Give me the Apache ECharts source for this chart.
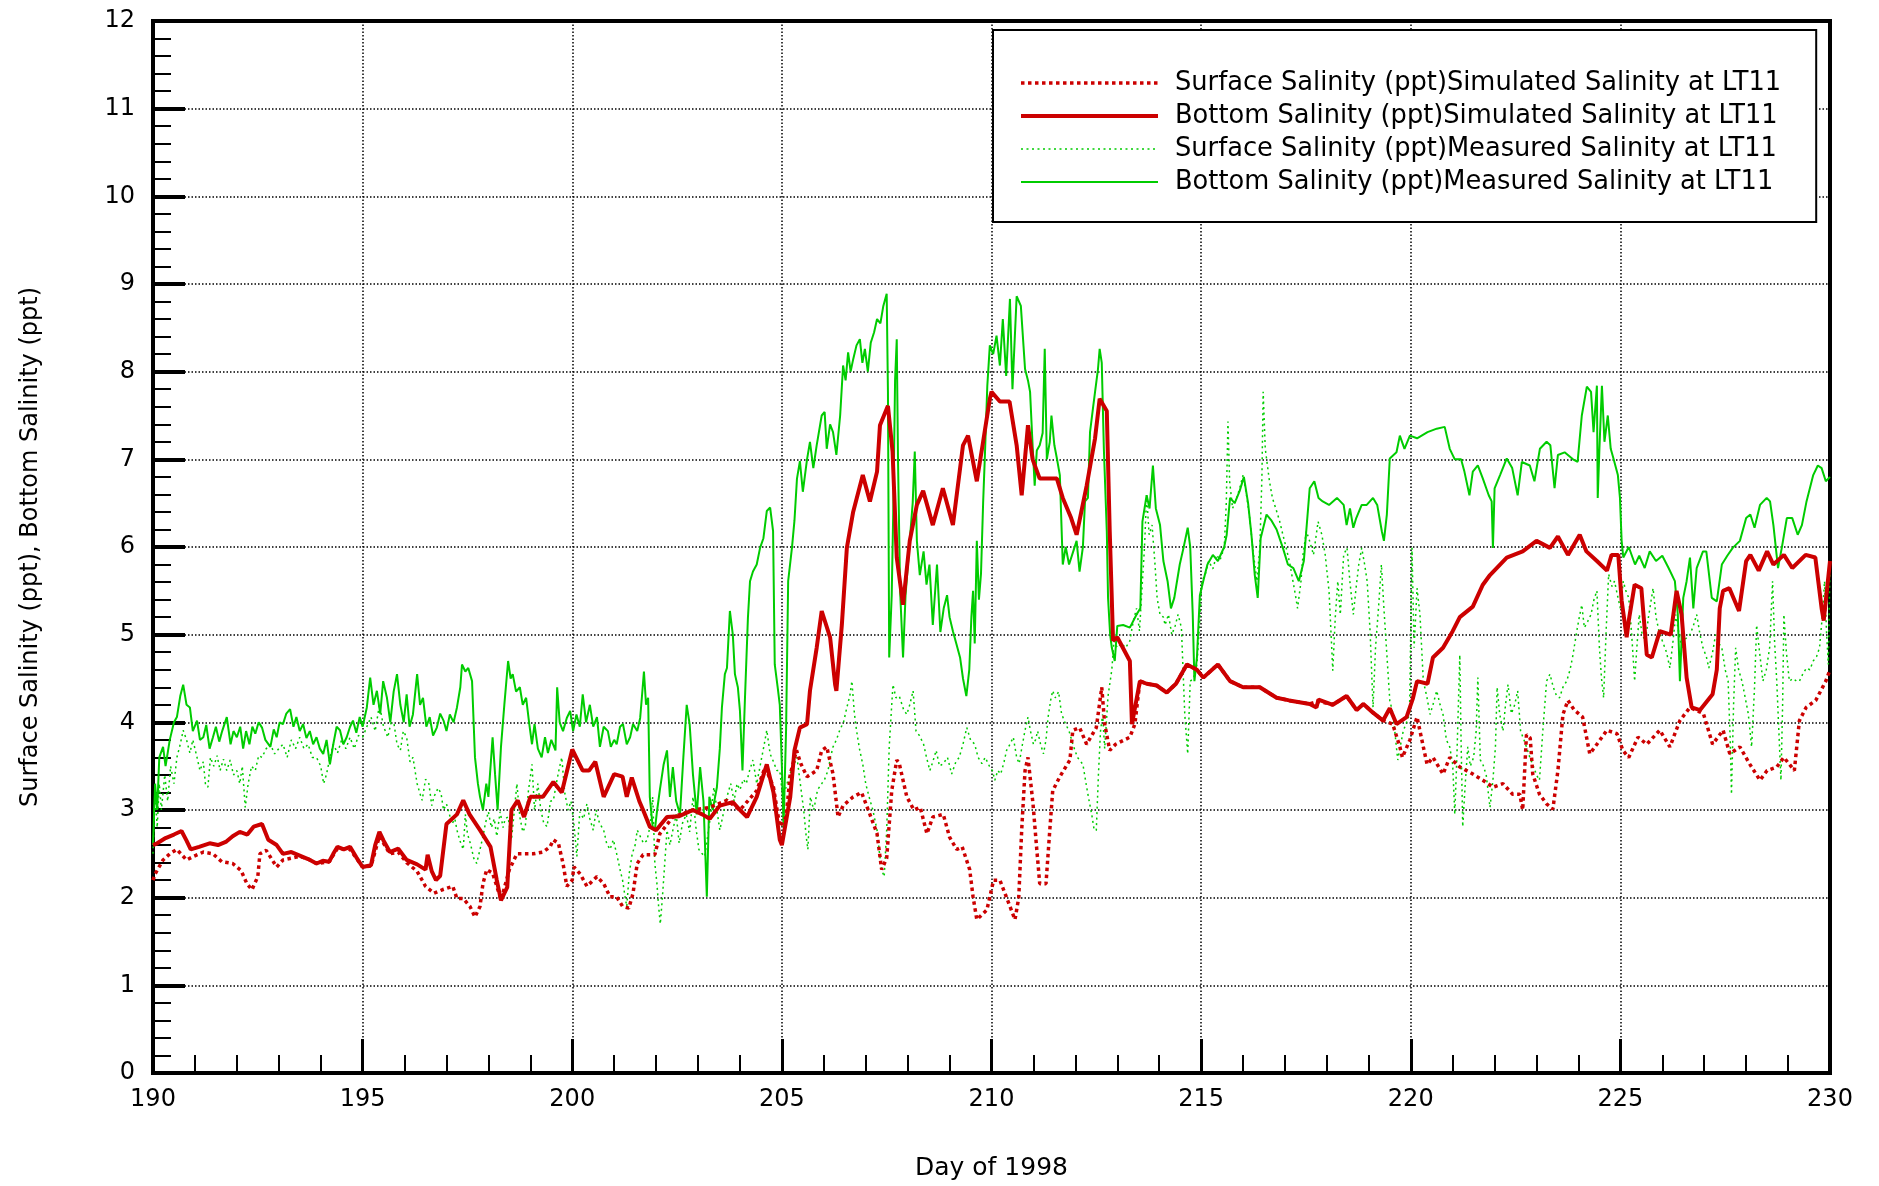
<!DOCTYPE html>
<html>
<head>
<meta charset="utf-8">
<title>Salinity at LT11, 1998</title>
<script src="https://cdn.jsdelivr.net/npm/echarts@6/dist/echarts.min.js"></script>
<style>
  html, body { margin: 0; padding: 0; background: #fff; }
  #chart { width: 1879px; height: 1186px; }
</style>
</head>
<body>
<div id="chart"></div>
<script>
// Series names as shown in the legend
const seriesNames = [
  'Surface Salinity (ppt)Simulated Salinity at LT11',
  'Bottom Salinity (ppt)Simulated Salinity at LT11',
  'Surface Salinity (ppt)Measured Salinity at LT11',
  'Bottom Salinity (ppt)Measured Salinity at LT11'
];

// Simulated surface salinity, [day of 1998, ppt]
const surfaceSimulated = [
  [190.0,2.2],[190.05,2.27],[190.24,2.43],[190.4,2.5],[190.57,2.55],[190.8,2.43],[190.96,2.47],[191.2,2.52],
  [191.43,2.5],[191.64,2.41],[191.9,2.39],[192.1,2.31],[192.24,2.16],[192.36,2.09],[192.5,2.24],[192.55,2.5],
  [192.7,2.54],[192.95,2.35],[193.1,2.43],[193.5,2.47],[193.7,2.44],[193.9,2.39],[194.2,2.41],[194.4,2.56],
  [194.7,2.55],[195.0,2.35],[195.2,2.36],[195.4,2.7],[195.65,2.5],[195.85,2.52],[196.05,2.4],[196.3,2.3],
  [196.5,2.13],[196.7,2.05],[196.9,2.09],[197.15,2.13],[197.25,1.99],[197.4,1.99],[197.56,1.9],[197.68,1.78],
  [197.8,1.9],[197.87,2.16],[197.96,2.32],[198.1,2.28],[198.28,2.01],[198.3,1.97],[198.5,2.32],[198.68,2.5],
  [199.07,2.5],[199.3,2.52],[199.47,2.58],[199.55,2.66],[199.67,2.62],[199.78,2.39],[199.87,2.13],[200.0,2.2],
  [200.04,2.35],[200.19,2.27],[200.35,2.13],[200.59,2.24],[200.75,2.16],[200.9,2.01],[201.06,2.01],[201.2,1.9],
  [201.35,1.88],[201.45,2.05],[201.55,2.39],[201.69,2.49],[201.97,2.49],[202.09,2.73],[202.4,2.92],[202.88,3.0],
  [203.28,3.03],[203.69,3.11],[204.0,3.0],[204.4,3.22],[204.6,3.49],[204.8,3.26],[204.95,2.81],[205.1,2.92],
  [205.2,3.41],[205.35,3.68],[205.45,3.53],[205.6,3.38],[205.83,3.45],[205.95,3.68],[206.07,3.72],[206.22,3.41],
  [206.34,2.92],[206.46,3.05],[206.7,3.15],[206.9,3.2],[207.1,2.95],[207.27,2.73],[207.38,2.32],[207.5,2.45],
  [207.62,3.22],[207.74,3.57],[207.8,3.53],[207.98,3.15],[208.15,3.0],[208.3,3.03],[208.46,2.73],[208.6,2.92],
  [208.85,2.95],[209.0,2.69],[209.17,2.55],[209.3,2.58],[209.48,2.32],[209.56,2.01],[209.65,1.75],[209.89,1.86],
  [210.05,2.2],[210.2,2.2],[210.44,1.9],[210.56,1.75],[210.65,2.0],[210.72,2.77],[210.8,3.45],[210.87,3.6],
  [210.99,3.07],[211.08,2.55],[211.15,2.16],[211.3,2.16],[211.39,2.77],[211.46,3.22],[211.63,3.38],[211.87,3.57],
  [211.94,3.91],[212.1,3.94],[212.27,3.75],[212.5,3.94],[212.63,4.4],[212.7,3.98],[212.82,3.68],[212.96,3.75],
  [213.3,3.83],[213.42,3.98],[213.54,4.47],[213.7,4.44],[213.94,4.42],[214.18,4.34],[214.4,4.44],[214.66,4.66],
  [214.9,4.6],[215.05,4.51],[215.4,4.66],[215.69,4.47],[216.0,4.4],[216.4,4.4],[216.8,4.28],[217.1,4.25],
  [217.59,4.21],[217.8,4.24],[218.14,4.2],[218.47,4.3],[218.71,4.14],[218.87,4.21],[219.1,4.11],[219.34,4.02],
  [219.57,3.98],[219.74,3.72],[219.8,3.6],[219.98,3.8],[220.15,4.06],[220.3,3.72],[220.39,3.52],[220.53,3.6],
  [220.77,3.41],[220.93,3.6],[221.17,3.49],[221.41,3.43],[221.72,3.34],[221.96,3.26],[222.2,3.3],[222.43,3.18],
  [222.6,3.18],[222.67,3.0],[222.76,3.86],[222.85,3.82],[222.91,3.41],[223.07,3.18],[223.24,3.07],[223.39,3.01],
  [223.51,3.45],[223.63,4.09],[223.75,4.25],[223.9,4.14],[224.1,4.06],[224.27,3.64],[224.44,3.75],[224.68,3.91],
  [224.92,3.87],[225.06,3.68],[225.2,3.6],[225.42,3.83],[225.63,3.75],[225.94,3.91],[226.18,3.72],[226.42,4.02],
  [226.66,4.17],[226.98,4.1],[227.2,3.75],[227.45,3.91],[227.61,3.64],[227.85,3.72],[228.09,3.52],[228.33,3.34],
  [228.5,3.45],[228.73,3.49],[228.9,3.6],[229.15,3.45],[229.27,4.02],[229.43,4.17],[229.66,4.25],[229.9,4.47],
  [230.0,4.6]
];

// Simulated bottom salinity, [day of 1998, ppt]
const bottomSimulated = [
  [190.0,2.6],[190.1,2.62],[190.3,2.68],[190.5,2.72],[190.68,2.76],[190.8,2.65],[190.9,2.55],[191.1,2.58],
  [191.35,2.62],[191.55,2.6],[191.75,2.64],[191.9,2.7],[192.07,2.75],[192.25,2.72],[192.4,2.81],[192.6,2.84],
  [192.75,2.66],[192.95,2.6],[193.1,2.5],[193.3,2.52],[193.5,2.48],[193.7,2.44],[193.9,2.39],[194.05,2.42],
  [194.2,2.41],[194.3,2.5],[194.4,2.58],[194.55,2.55],[194.7,2.58],[194.85,2.46],[195.0,2.35],[195.2,2.37],
  [195.3,2.6],[195.4,2.75],[195.5,2.65],[195.65,2.52],[195.85,2.56],[196.05,2.43],[196.3,2.38],[196.5,2.32],
  [196.55,2.49],[196.65,2.3],[196.75,2.2],[196.85,2.25],[197.0,2.84],[197.25,2.95],[197.4,3.11],[197.55,2.95],
  [197.8,2.77],[198.05,2.58],[198.2,2.2],[198.3,1.97],[198.45,2.12],[198.55,3.0],[198.7,3.11],[198.85,2.92],
  [199.0,3.15],[199.3,3.15],[199.55,3.32],[199.75,3.2],[200.0,3.69],[200.25,3.45],[200.4,3.45],[200.55,3.55],
  [200.75,3.15],[201.0,3.41],[201.2,3.38],[201.3,3.15],[201.42,3.37],[201.6,3.1],[201.69,3.0],[201.85,2.81],
  [202.0,2.77],[202.26,2.92],[202.55,2.93],[202.88,3.0],[203.1,2.95],[203.28,2.9],[203.52,3.05],[203.83,3.09],
  [204.0,3.0],[204.17,2.92],[204.4,3.15],[204.64,3.52],[204.8,3.2],[204.95,2.66],[205.0,2.6],[205.2,3.15],
  [205.3,3.68],[205.43,3.94],[205.6,3.98],[205.67,4.36],[205.83,4.85],[205.95,5.27],[206.15,4.97],[206.27,4.43],
  [206.3,4.36],[206.43,5.11],[206.55,5.99],[206.7,6.4],[206.93,6.82],[207.1,6.52],[207.27,6.86],[207.34,7.39],
  [207.53,7.61],[207.64,7.09],[207.74,5.88],[207.89,5.34],[208.05,6.07],[208.22,6.48],[208.37,6.64],[208.6,6.25],
  [208.84,6.67],[209.08,6.25],[209.32,7.16],[209.44,7.27],[209.65,6.75],[209.8,7.2],[209.96,7.69],[210.0,7.77],
  [210.2,7.66],[210.43,7.66],[210.6,7.16],[210.72,6.59],[210.87,7.39],[210.98,7.0],[211.15,6.78],[211.4,6.78],
  [211.56,6.78],[211.7,6.56],[211.9,6.33],[212.03,6.14],[212.27,6.7],[212.47,7.24],[212.58,7.69],[212.75,7.55],
  [212.82,6.18],[212.9,4.93],[213.0,4.97],[213.3,4.7],[213.35,3.98],[213.54,4.47],[213.7,4.44],[213.94,4.42],
  [214.18,4.34],[214.4,4.44],[214.66,4.66],[214.9,4.6],[215.05,4.51],[215.4,4.66],[215.69,4.47],[216.0,4.4],
  [216.4,4.4],[216.8,4.28],[217.1,4.25],[217.59,4.21],[217.75,4.17],[217.8,4.26],[218.14,4.2],[218.47,4.3],
  [218.71,4.14],[218.87,4.21],[219.1,4.11],[219.34,4.02],[219.5,4.16],[219.66,3.98],[219.9,4.06],[220.05,4.27],
  [220.15,4.47],[220.4,4.44],[220.53,4.74],[220.77,4.85],[221.0,5.04],[221.17,5.2],[221.48,5.32],[221.72,5.57],
  [221.89,5.68],[222.13,5.8],[222.29,5.88],[222.67,5.95],[223.0,6.07],[223.32,5.99],[223.51,6.12],[223.75,5.91],
  [224.03,6.14],[224.19,5.95],[224.44,5.84],[224.68,5.73],[224.79,5.91],[224.95,5.91],[225.03,5.39],[225.15,4.97],
  [225.2,5.16],[225.34,5.57],[225.5,5.53],[225.63,4.77],[225.75,4.74],[225.94,5.04],[226.2,5.0],[226.34,5.5],
  [226.46,5.23],[226.58,4.51],[226.7,4.17],[226.9,4.14],[227.2,4.32],[227.3,4.6],[227.37,5.3],[227.45,5.5],
  [227.6,5.53],[227.83,5.27],[228.0,5.84],[228.1,5.91],[228.3,5.73],[228.5,5.95],[228.65,5.8],[228.9,5.91],
  [229.1,5.76],[229.42,5.91],[229.65,5.88],[229.8,5.3],[229.85,5.16],[230.0,5.84]
];

// Measured surface salinity, [day of 1998, ppt]
const surfaceMeasured = [
  [190.0,2.5],[190.05,3.2],[190.1,2.8],[190.15,3.3],[190.2,3.0],[190.28,3.4],[190.35,3.1],[190.42,3.5],
  [190.5,3.3],[190.57,3.6],[190.65,3.75],[190.72,3.91],[190.8,3.8],[190.88,3.65],[190.95,3.8],[191.05,3.6],
  [191.12,3.45],[191.2,3.55],[191.25,3.3],[191.31,3.26],[191.37,3.6],[191.45,3.5],[191.53,3.62],[191.6,3.45],
  [191.68,3.58],[191.76,3.45],[191.84,3.57],[191.92,3.4],[192.0,3.45],[192.07,3.3],[192.13,3.5],[192.2,3.03],
  [192.27,3.3],[192.35,3.5],[192.44,3.45],[192.52,3.62],[192.6,3.6],[192.7,3.7],[192.8,3.75],[192.9,3.64],
  [193.0,3.7],[193.1,3.75],[193.2,3.6],[193.3,3.8],[193.4,3.7],[193.5,3.83],[193.6,3.7],[193.7,3.75],
  [193.8,3.6],[193.9,3.6],[194.0,3.5],[194.07,3.3],[194.14,3.41],[194.22,3.6],[194.3,3.75],[194.4,3.65],
  [194.5,3.8],[194.6,3.7],[194.7,3.83],[194.8,3.7],[194.9,3.85],[195.0,3.83],[195.1,3.95],[195.2,4.06],
  [195.3,3.9],[195.4,4.2],[195.5,3.95],[195.6,3.83],[195.68,4.0],[195.75,3.98],[195.82,3.75],[195.9,3.68],
  [195.97,3.9],[196.05,3.83],[196.13,3.55],[196.2,3.6],[196.3,3.3],[196.36,3.2],[196.42,3.11],[196.5,3.35],
  [196.58,3.3],[196.65,3.05],[196.7,3.15],[196.8,3.25],[196.87,3.19],[196.93,3.0],[197.0,3.07],[197.07,2.95],
  [197.13,2.84],[197.2,2.9],[197.25,2.77],[197.32,2.65],[197.4,2.55],[197.45,2.95],[197.5,2.73],[197.58,2.6],
  [197.65,2.45],[197.72,2.39],[197.8,2.55],[197.87,2.7],[197.93,2.85],[198.0,2.98],[198.07,2.8],[198.14,2.9],
  [198.2,2.7],[198.28,2.98],[198.35,2.8],[198.4,2.9],[198.47,2.92],[198.55,2.66],[198.62,3.0],[198.68,3.3],
  [198.75,2.92],[198.82,2.75],[198.88,2.81],[198.95,3.2],[199.04,3.52],[199.1,3.0],[199.18,3.3],[199.25,3.0],
  [199.32,2.85],[199.4,2.81],[199.48,3.1],[199.55,3.11],[199.62,3.3],[199.68,3.45],[199.75,3.6],[199.82,3.2],
  [199.9,3.0],[199.97,3.1],[200.04,2.84],[200.11,2.47],[200.18,2.98],[200.27,2.9],[200.35,3.07],[200.42,2.9],
  [200.5,2.77],[200.57,3.0],[200.65,2.85],[200.75,2.77],[200.82,2.62],[200.9,2.55],[200.98,2.66],[201.06,2.5],
  [201.14,2.32],[201.2,2.2],[201.26,2.01],[201.3,1.9],[201.36,2.28],[201.43,2.5],[201.5,2.6],[201.55,2.77],
  [201.62,2.7],[201.7,2.62],[201.78,2.65],[201.85,2.8],[201.92,3.15],[201.97,2.39],[202.02,2.16],[202.06,1.9],
  [202.1,1.7],[202.15,2.0],[202.2,2.35],[202.26,2.77],[202.33,2.6],[202.4,2.77],[202.48,2.95],[202.55,2.62],
  [202.63,2.85],[202.72,2.95],[202.8,2.75],[202.88,3.15],[202.95,2.8],[203.02,2.55],[203.1,2.5],[203.16,2.47],
  [203.23,2.7],[203.3,2.95],[203.38,3.26],[203.45,3.0],[203.52,2.77],[203.6,2.95],[203.69,3.15],[203.78,3.3],
  [203.86,3.1],[203.93,3.3],[204.0,3.23],[204.08,3.35],[204.15,3.3],[204.23,3.45],[204.31,3.57],[204.4,3.3],
  [204.48,3.5],[204.56,3.7],[204.64,3.91],[204.72,3.64],[204.8,3.55],[204.88,3.45],[204.95,3.45],[205.02,3.15],
  [205.1,3.26],[205.18,3.4],[205.27,3.5],[205.36,3.6],[205.44,3.3],[205.52,3.0],[205.58,2.7],[205.62,2.55],
  [205.68,3.15],[205.76,3.0],[205.85,3.23],[205.95,3.3],[206.02,3.35],[206.1,3.45],[206.16,3.6],[206.22,3.72],
  [206.3,3.8],[206.38,3.91],[206.47,4.0],[206.55,4.17],[206.62,4.3],[206.67,4.47],[206.73,4.1],[206.78,3.91],
  [206.85,3.7],[206.93,3.52],[207.0,3.3],[207.08,3.15],[207.17,3.0],[207.27,2.77],[207.33,2.5],[207.38,2.32],
  [207.44,2.24],[207.5,2.77],[207.56,3.72],[207.62,4.2],[207.65,4.43],[207.72,4.28],[207.8,4.3],[207.9,4.15],
  [207.98,4.09],[208.05,4.2],[208.13,4.36],[208.2,3.9],[208.28,3.85],[208.38,3.75],[208.45,3.6],[208.53,3.45],
  [208.6,3.55],[208.68,3.68],[208.76,3.5],[208.85,3.53],[208.95,3.6],[209.05,3.41],[209.15,3.55],[209.23,3.6],
  [209.32,3.75],[209.41,3.94],[209.5,3.8],[209.6,3.75],[209.68,3.6],[209.77,3.53],[209.85,3.6],[209.95,3.5],
  [210.02,3.45],[210.08,3.34],[210.15,3.45],[210.22,3.41],[210.3,3.55],[210.36,3.68],[210.44,3.75],[210.52,3.83],
  [210.6,3.6],[210.66,3.53],[210.72,3.7],[210.8,3.91],[210.87,4.06],[210.93,3.9],[211.0,3.75],[211.05,3.8],
  [211.1,3.9],[211.17,3.75],[211.24,3.64],[211.3,3.8],[211.35,4.06],[211.41,4.25],[211.46,4.36],[211.52,4.28],
  [211.6,4.35],[211.67,4.1],[211.75,4.0],[211.85,3.9],[211.94,3.75],[212.05,3.6],[212.18,3.52],[212.27,3.26],
  [212.33,3.1],[212.39,2.95],[212.45,2.77],[212.5,2.77],[212.55,3.4],[212.6,3.9],[212.65,4.09],[212.7,3.7],
  [212.78,4.3],[212.87,4.6],[212.92,4.93],[213.0,4.85],[213.1,4.9],[213.2,4.85],[213.3,4.93],[213.38,5.15],
  [213.46,5.3],[213.53,5.04],[213.6,5.61],[213.65,6.0],[213.7,6.59],[213.76,6.14],[213.83,6.25],[213.9,5.8],
  [213.95,5.42],[214.02,5.23],[214.1,5.2],[214.14,5.11],[214.22,5.23],[214.3,5.0],[214.38,5.1],[214.45,5.23],
  [214.53,5.08],[214.61,4.09],[214.68,3.64],[214.74,4.47],[214.82,4.5],[214.9,4.66],[214.96,5.1],[215.02,5.61],
  [215.1,5.69],[215.18,5.84],[215.28,5.75],[215.37,5.91],[215.45,5.85],[215.55,5.99],[215.6,6.5],[215.64,7.43],
  [215.68,6.75],[215.75,6.44],[215.84,6.55],[215.92,6.67],[216.0,6.82],[216.08,6.6],[216.15,6.37],[216.23,5.99],
  [216.33,5.61],[216.4,5.99],[216.45,6.8],[216.48,7.77],[216.53,7.12],[216.63,6.75],[216.7,6.56],[216.78,6.44],
  [216.87,6.3],[216.95,6.14],[217.03,5.99],[217.12,5.8],[217.19,5.61],[217.25,5.45],[217.3,5.3],[217.38,5.6],
  [217.43,5.91],[217.51,6.18],[217.6,6.05],[217.68,5.91],[217.79,6.29],[217.88,6.14],[217.96,5.91],[218.05,5.5],
  [218.1,5.0],[218.14,4.59],[218.2,5.2],[218.26,5.61],[218.32,5.23],[218.4,5.91],[218.48,5.99],[218.55,5.6],
  [218.63,5.23],[218.7,5.55],[218.76,5.8],[218.83,5.99],[218.9,5.8],[218.96,5.61],[219.03,5.04],[219.1,4.17],
  [219.16,4.85],[219.23,5.3],[219.3,5.8],[219.36,5.3],[219.42,4.85],[219.5,4.25],[219.58,4.09],[219.64,3.8],
  [219.69,3.57],[219.76,3.75],[219.82,3.9],[219.9,4.0],[219.97,4.09],[220.03,5.99],[220.08,4.85],[220.15,5.53],
  [220.22,5.23],[220.3,4.47],[220.38,4.3],[220.46,4.09],[220.53,4.2],[220.62,4.36],[220.7,4.2],[220.77,4.09],
  [220.85,3.8],[220.93,3.72],[221.0,3.52],[221.05,2.95],[221.1,3.6],[221.17,4.77],[221.2,3.8],[221.24,2.81],
  [221.3,3.3],[221.36,3.72],[221.42,3.5],[221.5,3.6],[221.56,3.9],[221.6,4.51],[221.66,3.57],[221.72,3.52],
  [221.8,3.4],[221.89,3.03],[221.96,3.34],[222.02,3.72],[222.06,4.4],[222.12,4.1],[222.2,3.9],[222.26,4.2],
  [222.32,4.43],[222.4,4.1],[222.48,4.2],[222.55,4.36],[222.62,3.9],[222.7,3.8],[222.76,3.72],[222.84,3.6],
  [222.91,3.52],[223.0,3.4],[223.07,3.34],[223.15,3.9],[223.24,4.47],[223.32,4.55],[223.4,4.4],[223.48,4.3],
  [223.55,4.28],[223.63,4.4],[223.72,4.47],[223.8,4.6],[223.87,4.77],[223.96,5.04],[224.02,5.2],[224.08,5.34],
  [224.14,5.08],[224.22,5.15],[224.3,5.23],[224.37,5.4],[224.44,5.5],[224.5,4.85],[224.55,4.5],[224.6,4.28],
  [224.66,5.04],[224.72,5.69],[224.8,5.55],[224.86,5.61],[224.93,5.45],[225.0,5.3],[225.07,5.61],[225.13,5.5],
  [225.2,5.42],[225.27,5.0],[225.34,4.47],[225.4,4.9],[225.45,5.23],[225.52,5.0],[225.6,4.93],[225.67,5.2],
  [225.78,5.53],[225.85,5.2],[225.92,5.04],[226.0,4.93],[226.1,4.8],[226.18,4.62],[226.25,4.9],[226.32,5.23],
  [226.4,5.0],[226.47,4.85],[226.55,4.95],[226.66,5.0],[226.74,5.1],[226.82,5.23],[226.9,5.0],[226.97,4.85],
  [227.05,4.75],[227.11,4.62],[227.2,4.8],[227.27,5.0],[227.35,4.9],[227.42,4.85],[227.5,4.6],[227.57,4.47],
  [227.62,3.8],[227.65,3.18],[227.7,4.2],[227.75,4.85],[227.82,4.6],[227.9,4.47],[227.97,4.3],[228.05,4.1],
  [228.13,3.72],[228.2,4.4],[228.25,5.11],[228.32,4.8],[228.4,4.47],[228.48,4.6],[228.56,4.85],[228.63,5.61],
  [228.68,4.9],[228.73,4.47],[228.78,3.9],[228.83,3.34],[228.87,4.2],[228.9,5.23],[228.96,4.8],[229.03,4.47],
  [229.12,4.5],[229.2,4.47],[229.27,4.47],[229.35,4.55],[229.44,4.62],[229.52,4.6],[229.6,4.7],[229.68,4.75],
  [229.75,4.85],[229.82,5.23],[229.87,5.61],[229.92,5.0],[229.96,4.66],[230.0,5.8]
];

// Measured bottom salinity, [day of 1998, ppt]
const bottomMeasured = [
  [190.0,2.6],[190.05,3.3],[190.1,3.0],[190.15,3.6],[190.24,3.72],[190.3,3.5],[190.4,3.8],[190.5,4.0],
  [190.57,4.06],[190.65,4.3],[190.72,4.43],[190.8,4.2],[190.88,4.17],[190.95,3.9],[191.05,4.02],[191.12,3.8],
  [191.2,3.83],[191.27,3.97],[191.35,3.7],[191.43,3.83],[191.5,3.95],[191.58,3.78],[191.65,3.9],[191.76,4.06],
  [191.85,3.75],[191.92,3.9],[192.0,3.83],[192.08,3.95],[192.15,3.7],[192.22,3.9],[192.3,3.75],[192.37,3.95],
  [192.44,3.87],[192.52,4.0],[192.6,3.94],[192.68,3.8],[192.8,3.72],[192.88,3.92],[192.95,3.83],[193.02,4.0],
  [193.1,3.98],[193.18,4.1],[193.27,4.15],[193.35,3.95],[193.42,4.06],[193.5,3.9],[193.58,3.98],[193.66,3.82],
  [193.74,3.9],[193.82,3.75],[193.9,3.83],[193.98,3.7],[194.06,3.64],[194.14,3.8],[194.22,3.52],[194.3,3.75],
  [194.38,3.95],[194.46,3.91],[194.54,3.75],[194.62,3.83],[194.7,3.95],[194.77,4.02],[194.85,3.88],[194.93,4.06],
  [195.0,3.95],[195.1,4.17],[195.18,4.51],[195.26,4.2],[195.34,4.36],[195.42,4.1],[195.49,4.47],[195.58,4.28],
  [195.66,4.0],[195.74,4.35],[195.82,4.55],[195.9,4.2],[195.98,4.0],[196.05,4.32],[196.12,3.95],[196.2,4.09],
  [196.3,4.55],[196.37,4.2],[196.44,4.28],[196.52,3.95],[196.6,4.06],[196.68,3.85],[196.77,3.94],[196.85,4.1],
  [196.93,4.02],[197.0,3.9],[197.08,4.09],[197.17,4.0],[197.25,4.17],[197.33,4.4],[197.37,4.66],[197.45,4.58],
  [197.52,4.62],[197.61,4.47],[197.68,3.6],[197.75,3.3],[197.8,3.15],[197.87,3.0],[197.95,3.3],[198.0,3.15],
  [198.1,3.83],[198.16,3.4],[198.22,3.0],[198.3,3.72],[198.38,4.2],[198.47,4.7],[198.53,4.5],[198.58,4.55],
  [198.66,4.35],[198.75,4.4],[198.82,4.2],[198.9,4.28],[198.97,4.0],[199.04,3.75],[199.1,3.98],[199.18,3.7],
  [199.27,3.6],[199.35,3.83],[199.42,3.65],[199.5,3.8],[199.6,3.68],[199.64,4.4],[199.7,4.0],[199.78,3.9],
  [199.87,4.05],[199.95,4.13],[200.02,3.9],[200.1,4.09],[200.18,3.95],[200.25,4.32],[200.33,4.0],[200.42,4.2],
  [200.5,3.95],[200.59,4.06],[200.66,3.72],[200.75,3.95],[200.85,3.9],[200.92,3.72],[201.0,3.8],[201.06,3.75],
  [201.14,3.95],[201.21,3.98],[201.3,3.75],[201.38,3.83],[201.45,3.98],[201.55,3.9],[201.62,4.05],[201.66,4.28],
  [201.71,4.58],[201.76,4.2],[201.81,4.28],[201.85,3.15],[201.92,2.8],[201.97,2.77],[202.02,2.98],[202.09,3.23],
  [202.18,3.52],[202.26,3.68],[202.33,3.15],[202.4,3.49],[202.48,3.1],[202.57,2.95],[202.65,3.6],[202.73,4.2],
  [202.8,3.98],[202.88,3.4],[202.97,2.95],[203.05,3.49],[203.13,3.1],[203.21,2.01],[203.27,3.15],[203.35,3.0],
  [203.45,3.26],[203.52,3.7],[203.57,4.17],[203.64,4.55],[203.69,4.62],[203.76,5.27],[203.83,5.0],[203.88,4.55],
  [203.95,4.4],[204.0,4.13],[204.06,3.45],[204.12,4.28],[204.19,5.19],[204.24,5.61],[204.31,5.72],[204.4,5.8],
  [204.48,5.99],[204.56,6.1],[204.64,6.41],[204.72,6.45],[204.79,6.18],[204.83,4.66],[204.9,4.4],[204.95,4.2],
  [205.0,3.5],[205.04,2.8],[205.1,3.91],[205.15,5.61],[205.24,5.99],[205.3,6.3],[205.36,6.78],[205.43,6.98],
  [205.5,6.63],[205.6,7.0],[205.67,7.2],[205.75,6.9],[205.83,7.16],[205.95,7.5],[206.02,7.54],[206.07,7.12],
  [206.15,7.4],[206.22,7.31],[206.3,7.05],[206.39,7.5],[206.46,8.07],[206.52,7.9],[206.58,8.22],[206.64,8.0],
  [206.7,8.14],[206.78,8.3],[206.86,8.37],[206.92,8.1],[206.98,8.26],[207.05,8.0],[207.12,8.33],[207.2,8.45],
  [207.27,8.6],[207.35,8.55],[207.42,8.75],[207.5,8.89],[207.53,7.77],[207.56,4.74],[207.62,5.45],[207.66,6.5],
  [207.7,7.9],[207.74,8.37],[207.77,7.0],[207.82,5.5],[207.89,4.74],[207.95,5.45],[208.05,6.07],[208.12,6.5],
  [208.17,7.09],[208.22,6.07],[208.29,5.68],[208.38,5.95],[208.45,5.57],[208.52,5.8],[208.6,5.11],[208.7,5.8],
  [208.78,5.03],[208.86,5.3],[208.94,5.45],[209.0,5.2],[209.08,5.04],[209.16,4.9],[209.25,4.74],[209.32,4.5],
  [209.4,4.3],[209.47,4.6],[209.52,5.2],[209.56,5.5],[209.6,4.9],[209.65,6.07],[209.7,5.4],[209.75,5.7],
  [209.8,6.5],[209.84,7.01],[209.9,7.84],[209.96,8.3],[210.04,8.2],[210.12,8.41],[210.2,8.07],[210.27,8.6],
  [210.35,7.95],[210.44,8.83],[210.5,7.8],[210.6,8.86],[210.7,8.75],[210.8,8.03],[210.87,7.9],[210.92,7.77],
  [210.98,7.16],[211.03,6.7],[211.08,7.1],[211.15,7.16],[211.22,7.3],[211.27,8.26],[211.32,7.0],[211.39,7.2],
  [211.43,7.5],[211.5,7.16],[211.56,7.01],[211.63,6.82],[211.7,5.8],[211.77,6.0],[211.85,5.8],[211.95,5.95],
  [212.03,6.07],[212.1,5.72],[212.18,6.0],[212.23,6.52],[212.3,6.56],[212.35,7.31],[212.42,7.58],[212.47,7.77],
  [212.54,8.03],[212.58,8.26],[212.63,8.1],[212.68,7.12],[212.75,6.18],[212.78,5.42],[212.83,5.0],[212.87,4.85],
  [212.94,4.7],[213.0,5.1],[213.14,5.11],[213.3,5.08],[213.46,5.23],[213.55,5.3],[213.6,6.29],[213.7,6.59],
  [213.77,6.44],[213.85,6.93],[213.92,6.44],[214.02,6.25],[214.1,5.84],[214.2,5.61],[214.28,5.3],[214.36,5.42],
  [214.49,5.8],[214.58,5.99],[214.68,6.22],[214.74,6.0],[214.8,5.23],[214.84,4.47],[214.9,4.74],[214.97,5.45],
  [215.05,5.61],[215.15,5.8],[215.28,5.91],[215.4,5.84],[215.55,6.0],[215.61,6.14],[215.69,6.56],[215.8,6.5],
  [215.92,6.64],[216.02,6.8],[216.12,6.5],[216.2,6.14],[216.28,5.68],[216.35,5.42],[216.42,6.1],[216.56,6.37],
  [216.68,6.3],[216.8,6.2],[216.95,5.99],[217.07,5.8],[217.2,5.76],[217.33,5.61],[217.45,5.84],[217.59,6.67],
  [217.7,6.75],[217.8,6.56],[217.9,6.52],[218.05,6.48],[218.24,6.56],[218.4,6.48],[218.47,6.25],[218.55,6.44],
  [218.63,6.22],[218.7,6.33],[218.83,6.48],[218.95,6.48],[219.1,6.56],[219.2,6.48],[219.31,6.18],[219.36,6.07],
  [219.43,6.37],[219.5,7.01],[219.66,7.08],[219.74,7.27],[219.85,7.12],[219.98,7.27],[220.15,7.24],[220.4,7.31],
  [220.62,7.35],[220.81,7.37],[220.93,7.12],[221.05,7.0],[221.2,7.0],[221.28,6.86],[221.4,6.59],[221.48,6.86],
  [221.6,6.93],[221.72,6.78],[221.86,6.59],[221.93,6.52],[221.96,5.99],[222.0,6.67],[222.13,6.82],[222.29,7.01],
  [222.42,6.9],[222.55,6.59],[222.65,6.97],[222.84,6.93],[222.95,6.75],[223.08,7.12],[223.24,7.2],[223.33,7.16],
  [223.43,6.67],[223.51,7.05],[223.67,7.08],[223.87,7.0],[223.98,6.97],[224.08,7.5],[224.2,7.83],[224.3,7.77],
  [224.36,7.31],[224.44,7.84],[224.46,6.56],[224.5,7.12],[224.56,7.84],[224.62,7.2],[224.7,7.5],[224.77,7.12],
  [224.84,7.0],[224.94,6.82],[224.99,6.56],[225.03,6.07],[225.07,5.88],[225.2,6.0],[225.35,5.8],[225.45,5.9],
  [225.58,5.76],[225.7,5.95],[225.85,5.84],[226.0,5.9],[226.15,5.76],[226.3,5.61],[226.37,5.23],[226.42,4.47],
  [226.5,5.42],[226.58,5.61],[226.66,5.88],[226.74,5.3],[226.82,5.76],[226.97,5.95],[227.05,5.95],[227.18,5.42],
  [227.3,5.38],[227.42,5.8],[227.55,5.9],[227.68,5.99],[227.85,6.07],[228.0,6.33],[228.1,6.37],[228.2,6.22],
  [228.33,6.48],[228.49,6.56],[228.57,6.52],[228.65,6.25],[228.76,5.76],[228.85,5.99],[228.97,6.33],[229.1,6.33],
  [229.23,6.14],[229.33,6.25],[229.44,6.52],[229.6,6.82],[229.71,6.93],[229.8,6.9],[229.9,6.75],[230.0,6.8]
];

const RED = '#cc0000';
const GREEN = '#00cc00';
const FONT = 'DejaVu Sans';

function lineSeries(name, data, color, width, type, z) {
  return {
    name: name,
    type: 'line',
    data: data,
    symbol: 'none',
    showSymbol: false,
    silent: true,
    z: z,
    itemStyle: { color: color },
    lineStyle: { color: color, width: width, type: type },
    emphasis: { disabled: true }
  };
}

const chart = echarts.init(document.getElementById('chart'), null, { renderer: 'canvas' });

chart.setOption({
  animation: false,
  backgroundColor: '#fff',
  grid: {
    left: 153, top: 21, right: 49, bottom: 109,
    show: true, borderColor: '#000', borderWidth: 4, backgroundColor: 'transparent'
  },
  legend: {
    orient: 'vertical',
    left: 993, top: 30,
    padding: [38, 35, 25, 26],
    itemWidth: 137, itemHeight: 14, itemGap: 3,
    backgroundColor: '#fff',
    borderColor: '#000', borderWidth: 2, borderRadius: 0,
    selectedMode: false,
    data: seriesNames,
    // line samples only: the marker in the middle of each sample is hidden
    itemStyle: { color: 'rgba(0,0,0,0)', borderColor: 'rgba(0,0,0,0)', borderWidth: 0 },
    lineStyle: { width: 'inherit' },
    textStyle: { fontFamily: FONT, fontSize: 25.7, color: '#000', lineHeight: 30, padding: [0, 0, 0, 12] }
  },
  xAxis: {
    type: 'value', min: 190, max: 230, interval: 5,
    name: 'Day of 1998', nameLocation: 'middle', nameGap: 83,
    nameTextStyle: { fontFamily: FONT, fontSize: 25, color: '#000' },
    axisLine: { onZero: false, lineStyle: { color: '#000', width: 4 } },
    axisTick: { inside: true, length: 34, lineStyle: { color: '#000', width: 3 } },
    minorTick: { show: true, splitNumber: 5, length: 18, lineStyle: { color: '#000', width: 2 } },
    splitLine: { show: true, lineStyle: { color: '#000', width: 1.5, type: [1.5, 2] } },
    axisLabel: { fontFamily: FONT, fontSize: 24, color: '#000', margin: 15 }
  },
  yAxis: {
    type: 'value', min: 0, max: 12, interval: 1,
    name: 'Surface Salinity (ppt), Bottom Salinity (ppt)', nameLocation: 'middle', nameGap: 110,
    nameTextStyle: { fontFamily: FONT, fontSize: 24, color: '#000' },
    axisLine: { onZero: false, lineStyle: { color: '#000', width: 4 } },
    axisTick: { inside: true, length: 32, lineStyle: { color: '#000', width: 4 } },
    minorTick: { show: true, splitNumber: 5, length: 18, lineStyle: { color: '#000', width: 2 } },
    splitLine: { show: true, lineStyle: { color: '#000', width: 1.5, type: [1.5, 2] } },
    axisLabel: { fontFamily: FONT, fontSize: 24, color: '#000', margin: 18 }
  },
  series: [
    lineSeries(seriesNames[0], surfaceSimulated, RED, 3.5, 'dotted', 4),
    lineSeries(seriesNames[1], bottomSimulated, RED, 4, 'solid', 5),
    lineSeries(seriesNames[2], surfaceMeasured, GREEN, 1.5, [2, 3.5], 2),
    lineSeries(seriesNames[3], bottomMeasured, GREEN, 2, 'solid', 3)
  ]
});
</script>
</body>
</html>
